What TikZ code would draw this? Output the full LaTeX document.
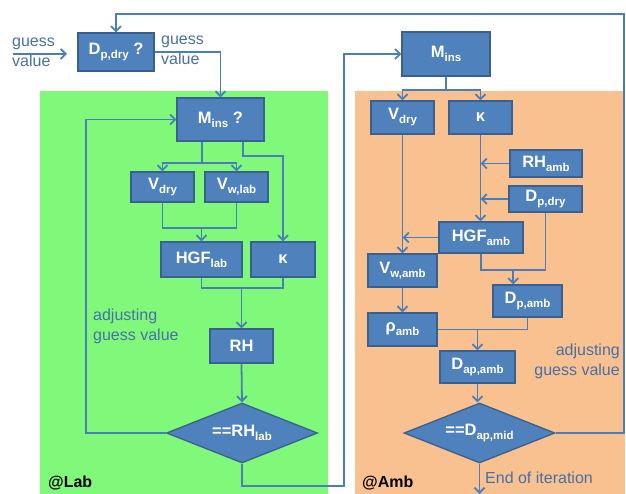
\documentclass[tikz,border=0pt]{standalone}
\usepackage{fontspec}
\setmainfont{Liberation Sans}
\usetikzlibrary{arrows.meta,shapes.geometric,calc}
\definecolor{boxfill}{HTML}{4F81BD}
\definecolor{boxdraw}{HTML}{3A6090}
\definecolor{linec}{HTML}{4A7EBB}
\definecolor{txtblue}{HTML}{4670A8}
\definecolor{labgreen}{HTML}{80F97B}
\definecolor{ambor}{HTML}{F8C18F}
\newcommand\mysub[1]{\raisebox{-4pt}{\fontsize{11.5}{11.5}\selectfont #1}}
\begin{document}
\begin{tikzpicture}[x=1pt,y=-1pt,
 box/.style={draw=boxdraw, fill=boxfill, line width=1.3pt, text=white, font=\fontsize{16.5}{18}\selectfont\bfseries, inner sep=0pt},
 dia/.style={box, diamond, aspect=2.5},
 conn/.style={draw=linec, line width=1.8pt},
 arr/.style={conn, -{Straight Barb[length=5pt,width=10pt]}},
 note/.style={text=txtblue, font=\fontsize{16}{20}\selectfont, inner sep=0pt},
 zone/.style={font=\fontsize{16}{18}\selectfont\bfseries, inner sep=0pt}]
\useasboundingbox (0,0) rectangle (626,494);
\fill[labgreen] (40,91) rectangle (328,494);
\fill[ambor] (355,91) rectangle (625,494);

% lab side
\node[box, minimum width=76, minimum height=38] (dpq) at (116,52) {D\mysub{p,dry} ?};
\node[box, minimum width=87, minimum height=43] (minsq) at (220.5,119.5) {M\mysub{ins} ?};
\node[box, minimum width=63, minimum height=30] (vdl) at (162.5,187) {V\mysub{dry}};
\node[box, minimum width=63, minimum height=30] (vwl) at (236.5,187) {V\mysub{w,lab}};
\node[box, minimum width=81, minimum height=35] (hgfl) at (201.5,259.5) {HGF\mysub{lab}};
\node[box, minimum width=64, minimum height=35] (kl) at (283,259.5) {κ};
\node[box, minimum width=63, minimum height=34] (rh) at (241.5,346) {RH};
\node[dia, minimum width=151, minimum height=60] (dl) at (242,433) {==RH\mysub{lab}};

% amb side
\node[box, minimum width=88, minimum height=44] (minsa) at (446,54) {M\mysub{ins}};
\node[box, minimum width=63, minimum height=33] (vda) at (402.5,117.5) {V\mysub{dry}};
\node[box, minimum width=63, minimum height=33] (ka) at (480.5,117.5) {κ};
\node[box, minimum width=72, minimum height=27] (rha) at (546,163.5) {RH\mysub{amb}};
\node[box, minimum width=73, minimum height=26] (dpa) at (545.5,199) {D\mysub{p,dry}};
\node[box, minimum width=84, minimum height=31] (hgfa) at (481,237.5) {HGF\mysub{amb}};
\node[box, minimum width=69, minimum height=33] (vwa) at (402.5,270.5) {V\mysub{w,amb}};
\node[box, minimum width=69, minimum height=33] (rhoa) at (402.5,329.5) {ρ\mysub{amb}};
\node[box, minimum width=69, minimum height=32] (dpamb) at (527.5,301) {D\mysub{p,amb}};
\node[box, minimum width=75, minimum height=32] (dapamb) at (477.5,367) {D\mysub{ap,amb}};
\node[dia, minimum width=151, minimum height=60] (da) at (479.5,433) {==D\mysub{ap,mid}};

% texts
\node[note, anchor=west, align=left] (t1) at (12,52) {guess\\value};
\node[note, anchor=west, align=left] (t2) at (161,50) {guess\\value};
\node[note, anchor=west, align=left] (t3) at (93,326) {adjusting\\guess value};
\node[note, anchor=east, align=right] (t4) at (620,361) {adjusting\\guess value};
\node[note, anchor=west] (t5) at (485,478) {End of iteration};
\node[zone, anchor=west] (z1) at (48,483) {@Lab};
\node[zone, anchor=west] (z2) at (362,483) {@Amb};

% coordinates
\coordinate (g1) at (13,54);
\coordinate (g2) at (67,54);
\coordinate (lloop) at (86,433);
\coordinate (rx) at (344,486);
\coordinate (c1) at (624,14);
\coordinate (endc) at (479.5,494);

% lab connectors
\draw[arr] (g1) -- (g2);
\draw[arr] (dpq.east) -| (minsq.north);
\draw[arr] (dl.west) -- (lloop) |- (minsq.west);
\draw[conn] ([xshift=-18.5]minsq.south) -- ++(0,21) coordinate (s1);
\draw[arr] (s1) -| (vdl.north);
\draw[arr] (s1) -| (vwl.north);
\draw[arr] ([xshift=22.5]minsq.south) -- ++(0,14) -| (kl.north);
\draw[conn] (vdl.south) -- ++(0,25) coordinate (j1) -| (vwl.south);
\draw[arr] (j1 -| hgfl.north) -- (hgfl.north);
\draw[conn] (hgfl.south) -- ++(0,10) coordinate (j2) -| (kl.south);
\draw[arr] (j2 -| rh.north) -- (rh.north);
\draw[arr] (rh.south) -- (dl.north);
\draw[arr] (dl.south) |- (rx) |- (minsa.west);

% amb connectors
\draw[conn] (minsa.south) -- ++(0,13) coordinate (s2);
\draw[arr] (s2) -| (vda.north);
\draw[arr] (s2) -| (ka.north);
\draw[arr] (ka.south) -- (ka.south |- hgfa.north);
\draw[arr] (rha.west) -- (ka.south |- rha.west);
\draw[arr] (dpa.west) -- (ka.south |- dpa.west);
\draw[arr] (vda.south) -- (vwa.north);
\draw[arr] (hgfa.west) -- (vda.south |- hgfa.west);
\draw[arr] (vwa.south) -- (rhoa.north);
\draw[conn] (hgfa.south) -- ++(0,16.5) coordinate (j3) -| (dpa.south);
\coordinate (j4) at (j3 -| dpa.south);
\coordinate (j5) at ($(j3)!.5!(j4)$);
\draw[arr] (j5) -- (j5 |- dpamb.north);
\draw[conn] (dpamb.south) |- (rhoa.east);
\draw[arr] (dapamb.north |- rhoa.east) -- (dapamb.north);
\draw[arr] (dapamb.south) -- (dapamb.south |- da.north);
\draw[arr] (da.east) -| (c1) -| (dpq.north);
\draw[arr] (da.south) -- (endc);
\end{tikzpicture}
\end{document}
